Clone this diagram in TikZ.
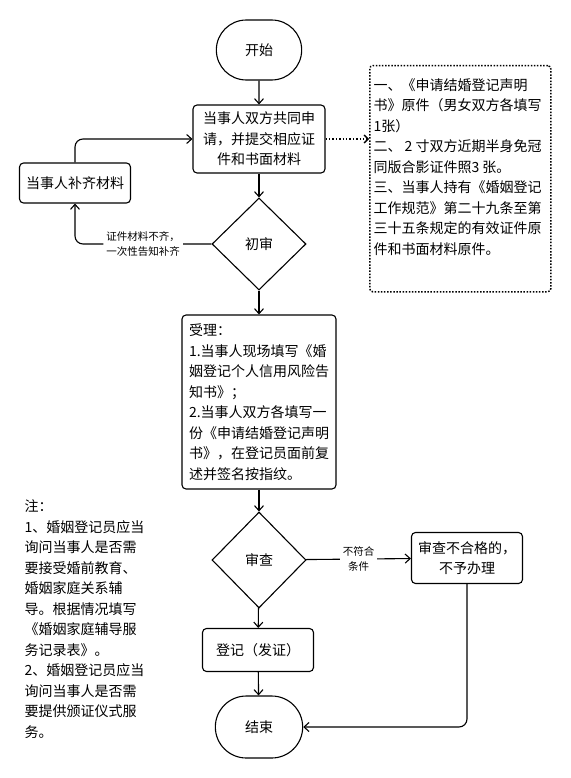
\documentclass[tikz,border=0pt]{standalone}
\usepackage{fontspec}
\setmainfont{Noto Sans CJK SC}
\usepackage{tikz}
\usetikzlibrary{shapes.misc}
\usetikzlibrary{shapes.geometric}
\usetikzlibrary{arrows.meta}
\usetikzlibrary{positioning}
\tikzset{
    terminal/.style = {rounded rectangle, draw=black, align=center, minimum width=92pt, minimum height=60pt},
    process/.style = {rectangle, rounded corners=4pt, draw=black, align=center, inner sep=4pt},
    decision/.style = {diamond, draw=black, align=center, inner sep=0pt, minimum width=94pt, minimum height=94pt},
    notebox/.style = {rectangle, rounded corners=3pt, draw=black, line width=1.5pt, dash pattern=on 1.5pt off 1.6pt},
    edgelabel/.style = {fill=white, align=center, inner sep=3pt, font=\fontsize{10.5}{15}\selectfont},
}
\begin{document}
\begin{tikzpicture}[
	x=1pt, y=-1pt,
	line width=1.1pt,
	font=\fontsize{14}{20.5}\selectfont,
	arrow/.style = {-{Straight Barb[length=5pt,width=9pt]}}
]
\useasboundingbox (0,0) rectangle (570,778);
\node[terminal] at (259,50) (start) {开始};
\node[process, minimum width=132pt, minimum height=68pt] at (259,139) (apply) {当事人双方共同申\\请，并提交相应证\\件和书面材料};
\node[process, minimum width=111pt, minimum height=40pt] at (75,183) (supply) {当事人补齐材料};
\node[decision, minimum height=92pt] at (259,244) (check) {初审};
\node[process, align=left, minimum width=154pt, minimum height=174pt] at (259,402) (accept) {受理：\\1.当事人现场填写《婚\\姻登记个人信用风险告\\知书》；\\2.当事人双方各填写一\\份《申请结婚登记声明\\书》，在登记员面前复\\述并签名按指纹。};
\node[decision, minimum height=96pt] at (259,560) (review) {审查};
\node[process, minimum width=111pt, minimum height=51pt] at (467,558) (reject) {审查不合格的，\\不予办理};
\node[process, minimum width=111pt, minimum height=43pt] at (258,650) (register) {登记（发证）};
\node[terminal, minimum width=94pt, minimum height=62pt] at (259,727) (finish) {结束};
%
\node[notebox, minimum width=181pt, minimum height=226pt, anchor=north west] at (369,65) (notes) {};
\node[align=left, anchor=north west, inner sep=0pt] at (373,78) (notetext) {一、《申请结婚登记声明\\书》原件（男女双方各填写\\1张）\\二、 2 寸双方近期半身免冠\\同版合影证件照3 张。\\三、当事人持有《婚姻登记\\工作规范》第二十九条至第\\三十五条规定的有效证件原\\件和书面材料原件。};
\node[align=left, anchor=west, inner sep=0pt] at (24,619) (remarks) {注：\\1、婚姻登记员应当\\询问当事人是否需\\要接受婚前教育、\\婚姻家庭关系辅\\导。根据情况填写\\《婚姻家庭辅导服\\务记录表》。\\2、婚姻登记员应当\\询问当事人是否需\\要提供颁证仪式服\\务。};
%
\draw[arrow] (start) -- (apply);
\draw[arrow] (apply) -- (check);
\draw[arrow] (check) -- (accept);
\draw[arrow] (accept) -- (review);
\draw[arrow] (review) -- (register);
\draw[arrow] (register) -- (finish);
%
\draw[arrow, rounded corners=8pt] (check.west) -| node[edgelabel, pos=0.25] {证件材料不齐，\\一次性告知补齐} (supply.south);
\draw[arrow, rounded corners=8pt] (supply.north) |- (apply.west);
\draw[arrow] (review) -- node[edgelabel] {不符合\\条件} (reject);
\draw[arrow, rounded corners=8pt] (reject.south) |- (finish.east);
\draw[line width=1.4pt, dash pattern=on 1.4pt off 2pt, -{Straight Barb[length=4pt,width=8pt]}] (apply.east) -- (apply.east -| notes.west);
\end{tikzpicture}
\end{document}
